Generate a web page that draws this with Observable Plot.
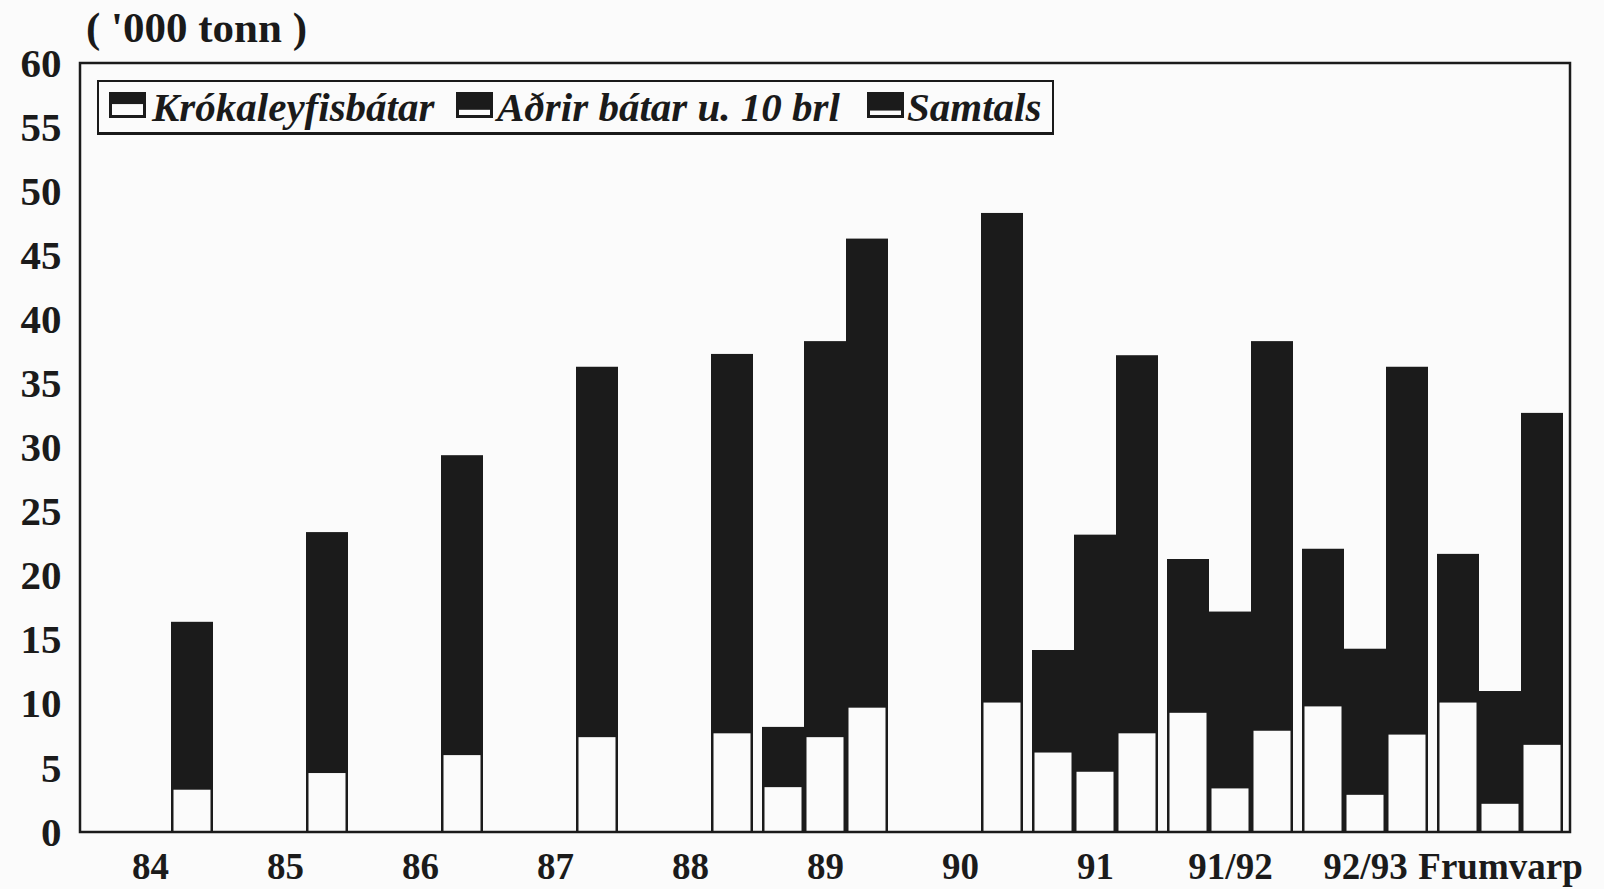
<!DOCTYPE html>
<html>
<head>
<meta charset="utf-8">
<script src="https://cdn.jsdelivr.net/npm/d3@7"></script>
<script src="https://cdn.jsdelivr.net/npm/@observablehq/plot@0.6"></script>
<style>
html, body { margin: 0; padding: 0; background: #fbfbfb; }
#wrap { position: relative; width: 1604px; height: 889px; overflow: hidden;
  font-family: "Liberation Serif", "Times New Roman", serif; color: #1a1a1a; }
#chart { position: absolute; left: 0; top: 0; }
#title { position: absolute; left: 86px; top: 6px; font-weight: bold; font-size: 43px; line-height: 1; white-space: nowrap; }
#legend { position: absolute; left: 97px; top: 80px; width: 957px; height: 55px; box-sizing: border-box;
  border: 2px solid #1a1a1a; border-bottom-width: 3px; background: #fbfbfb; }
.sw { position: absolute; top: 92px; }
.lt { position: absolute; top: 80px; height: 55px; line-height: 55px; font-style: italic; font-weight: bold;
  font-size: 41px; white-space: nowrap; }
</style>
</head>
<body>
<div id="wrap">
  <div id="chart"></div>
  <div id="title"></div>
  <div id="legend"></div>
</div>
<script>
// ---- data (thousand tonnes) ----
const categories = ["84", "85", "86", "87", "88", "89", "90", "91", "91/92", "92/93", "Frumvarp"];
const series = ["Krókaleyfisbátar", "Aðrir bátar u. 10 brl", "Samtals"];
const yTicks = [0, 5, 10, 15, 20, 25, 30, 35, 40, 45, 50, 55, 60];
const unitLabel = "( '000 tonn )";

// bar totals (black top) and white lower part, per category
const krokTotal    = [null, null, null, null, null, 8.2,  null, 14.2, 21.3, 22.1, 21.7];
const krokLower    = [null, null, null, null, null, 3.5,  null, 6.2,  9.3,  9.8,  10.1];
const adrirTotal   = [null, null, null, null, null, 38.3, null, 23.2, 17.2, 14.3, 11.0];
const adrirLower   = [null, null, null, null, null, 7.4,  null, 4.7,  3.4,  2.9,  2.2];
const samtalsTotal = [16.4, 23.4, 29.4, 36.3, 37.3, 46.3, 48.3, 37.2, 38.3, 36.3, 32.7];
const samtalsLower = [3.3,  4.6,  6.0,  7.4,  7.7,  9.7,  10.1, 7.7,  7.9,  7.6,  6.8];

// legend swatch white-part share (icon appearance)
const swatchWhite = [0.42, 0.2, 0.17];

const rows = [];
const pairs = [[krokTotal, krokLower], [adrirTotal, adrirLower], [samtalsTotal, samtalsLower]];
categories.forEach((c, i) => {
  pairs.forEach(([t, l], j) => {
    if (t[i] != null) rows.push({cat: c, series: series[j], total: t[i], lower: l[i]});
  });
});

const ink = "#1b1b1b", paper = "#fbfbfb";

const chart = Plot.plot({
  width: 1604,
  height: 889,
  marginLeft: 80,
  marginRight: 34,
  marginTop: 63,
  marginBottom: 57,
  style: {background: "transparent", fontFamily: "'Liberation Serif', 'Times New Roman', serif", color: ink},
  fx: {domain: categories, paddingInner: 0.065, paddingOuter: 0.03, label: null},
  x: {domain: series, padding: 0, axis: null},
  y: {domain: [0, 60], label: null},
  marks: [
    Plot.barY(rows, {fx: "cat", x: "series", y: "total", fill: ink}),
    Plot.barY(rows, {fx: "cat", x: "series", y: "lower", fill: paper, insetLeft: 2.5, insetRight: 2.5}),
    Plot.axisY(yTicks, {tickSize: 0, tickPadding: 26, fontSize: 41, fontWeight: "bold", label: null}),
    Plot.axisFx({anchor: "bottom", tickSize: 0, tickPadding: 20, fontSize: 37, fontWeight: "bold", label: null})
  ]
});
document.getElementById("chart").appendChild(chart);

// outer plot frame
const yr = chart.scale("y").range;
d3.select(chart).append("rect")
  .attr("x", 80).attr("y", Math.min(...yr))
  .attr("width", 1604 - 80 - 34).attr("height", Math.abs(yr[0] - yr[1]))
  .attr("fill", "none").attr("stroke", ink).attr("stroke-width", 2.5);

document.getElementById("title").textContent = unitLabel;

// legend
const wrap = document.getElementById("wrap");
const swLeft = [109, 456, 867], txtLeft = [152, 497, 907];
series.forEach((s, i) => {
  const w = 37, h = 26;
  const sv = d3.create("svg").attr("class", "sw").attr("width", w).attr("height", h)
    .style("left", swLeft[i] + "px");
  sv.append("rect").attr("width", w).attr("height", h).attr("fill", ink);
  const wh = h * swatchWhite[i];
  sv.append("rect").attr("x", 3).attr("y", h - 3 - wh).attr("width", w - 6).attr("height", wh).attr("fill", paper);
  wrap.appendChild(sv.node());
  const t = document.createElement("div");
  t.className = "lt";
  t.style.left = txtLeft[i] + "px";
  t.textContent = s;
  wrap.appendChild(t);
});
</script>
</body>
</html>
